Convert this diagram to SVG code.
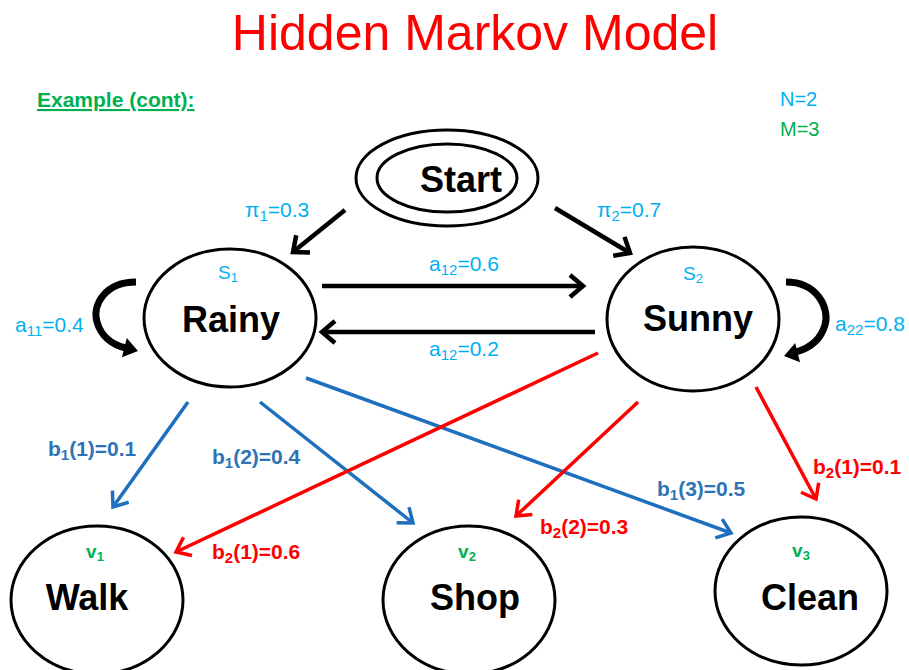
<svg xmlns="http://www.w3.org/2000/svg" width="909" height="670" viewBox="0 0 909 670">
<defs>
<style>
text{font-family:"Liberation Sans",Arial,sans-serif}
.node{fill:#fff;stroke:#000;stroke-width:3}
.name{font-size:36px;font-weight:bold;fill:#000;text-anchor:middle}
.st{font-size:19px;fill:#00B0F0;text-anchor:middle}
.ob{font-size:19px;fill:#00B050;text-anchor:middle;font-weight:bold}
.lb{font-size:21px;fill:#00B0F0}
.bb{font-size:21px;fill:#2E74B5;font-weight:bold}
.br{font-size:21px;fill:#FF0000;font-weight:bold}
.k{stroke:#000;stroke-width:4.5;fill:none}
.b{stroke:#1F6FBF;stroke-width:3.5;fill:none}
.r{stroke:#FF0000;stroke-width:3.5;fill:none}
</style>
<marker id="mk" markerUnits="userSpaceOnUse" viewBox="-16 -13 20 26" refX="0" refY="0" markerWidth="20" markerHeight="26" orient="auto">
<path d="M-13,-11 L0,0 L-13,11" fill="none" stroke="#000" stroke-width="4.5"/>
</marker>
<marker id="mb" markerUnits="userSpaceOnUse" viewBox="-16 -13 20 26" refX="0" refY="0" markerWidth="20" markerHeight="26" orient="auto">
<path d="M-13,-10 L0,0 L-13,10" fill="none" stroke="#1F6FBF" stroke-width="3.5"/>
</marker>
<marker id="mr" markerUnits="userSpaceOnUse" viewBox="-16 -13 20 26" refX="0" refY="0" markerWidth="20" markerHeight="26" orient="auto">
<path d="M-13,-10 L0,0 L-13,10" fill="none" stroke="#FF0000" stroke-width="3.5"/>
</marker>
</defs>
<rect width="909" height="670" fill="#fff"/>

<text x="475" y="50" font-size="50" fill="#FF0000" text-anchor="middle">Hidden Markov Model</text>
<text x="37" y="107" font-size="21" font-weight="bold" fill="#00B050" text-decoration="underline">Example (cont):</text>
<text x="780" y="106" font-size="20" fill="#00B0F0">N=2</text>
<text x="780" y="136" font-size="20" fill="#00B050">M=3</text>

<g id="connectors">
<line class="k" x1="345" y1="210" x2="293" y2="252" marker-end="url(#mk)"/>
<line class="k" x1="555" y1="208" x2="630" y2="253" marker-end="url(#mk)"/>
<line class="k" x1="322" y1="286" x2="583" y2="286" marker-end="url(#mk)"/>
<line class="k" x1="595" y1="332" x2="322" y2="332" marker-end="url(#mk)"/>
<path d="M136,282 C105,282 92,305 97,322 C101,336 112,345 126,348" fill="none" stroke="#000" stroke-width="7"/>
<polygon points="138,351 122,357.3 126.8,337.9" fill="#000"/>
<path d="M786,282 C817,282 830,308 825,325 C821,339 810,348 796,352" fill="none" stroke="#000" stroke-width="7"/>
<polygon points="784,356 800,362.3 795.2,342.9" fill="#000"/>
<line class="b" x1="188" y1="402" x2="113" y2="507" marker-end="url(#mb)"/>
<line class="b" x1="260" y1="402" x2="413" y2="523" marker-end="url(#mb)"/>
<line class="b" x1="306" y1="378" x2="731" y2="533" marker-end="url(#mb)"/>
<line class="r" x1="598" y1="353" x2="176" y2="552" marker-end="url(#mr)"/>
<line class="r" x1="638" y1="402" x2="516" y2="516" marker-end="url(#mr)"/>
<line class="r" x1="756" y1="387" x2="816" y2="499" marker-end="url(#mr)"/>

<text class="lb" x="245" y="217">π<tspan font-size="15" dy="4">1</tspan><tspan dy="-4">=0.3</tspan></text>
<text class="lb" x="597" y="217">π<tspan font-size="15" dy="4">2</tspan><tspan dy="-4">=0.7</tspan></text>
<text class="lb" x="429" y="271">a<tspan font-size="15" dy="4">12</tspan><tspan dy="-4">=0.6</tspan></text>
<text class="lb" x="429" y="356">a<tspan font-size="15" dy="4">12</tspan><tspan dy="-4">=0.2</tspan></text>
<text class="lb" x="15" y="332">a<tspan font-size="15" dy="4">11</tspan><tspan dy="-4">=0.4</tspan></text>
<text class="lb" x="835" y="331">a<tspan font-size="15" dy="4">22</tspan><tspan dy="-4">=0.8</tspan></text>
<text class="bb" x="48" y="456">b<tspan font-size="15" dy="4">1</tspan><tspan dy="-4">(1)=0.1</tspan></text>
<text class="bb" x="212" y="464">b<tspan font-size="15" dy="4">1</tspan><tspan dy="-4">(2)=0.4</tspan></text>
<text class="bb" x="657" y="496">b<tspan font-size="15" dy="4">1</tspan><tspan dy="-4">(3)=0.5</tspan></text>
<text class="br" x="212" y="559">b<tspan font-size="15" dy="4">2</tspan><tspan dy="-4">(1)=0.6</tspan></text>
<text class="br" x="540" y="534">b<tspan font-size="15" dy="4">2</tspan><tspan dy="-4">(2)=0.3</tspan></text>
<text class="br" x="813" y="474">b<tspan font-size="15" dy="4">2</tspan><tspan dy="-4">(1)=0.1</tspan></text>
</g>

<g id="start">
<ellipse class="node" cx="447" cy="178" rx="91" ry="48"/>
<ellipse class="node" cx="447" cy="178" rx="70" ry="34"/>
<text class="name" x="461" y="192" font-size="38">Start</text>
</g>
<g id="rainy">
<ellipse class="node" cx="230" cy="318" rx="86" ry="69"/>
<text class="st" x="228" y="279">S<tspan font-size="13" dy="3">1</tspan></text>
<text class="name" x="231" y="332">Rainy</text>
</g>
<g id="sunny">
<ellipse class="node" cx="693" cy="319" rx="86" ry="72"/>
<text class="st" x="693" y="280">S<tspan font-size="13" dy="3">2</tspan></text>
<text class="name" x="698" y="331">Sunny</text>
</g>
<g id="walk">
<ellipse class="node" cx="97" cy="600" rx="86" ry="74"/>
<text class="ob" x="95" y="558">v<tspan font-size="13" dy="3">1</tspan></text>
<text class="name" x="87" y="610" font-size="38">Walk</text>
</g>
<g id="shop">
<ellipse class="node" cx="469" cy="600" rx="86" ry="74"/>
<text class="ob" x="467" y="558">v<tspan font-size="13" dy="3">2</tspan></text>
<text class="name" x="475" y="610">Shop</text>
</g>
<g id="clean">
<ellipse class="node" cx="801" cy="591" rx="86" ry="74"/>
<text class="ob" x="801" y="557">v<tspan font-size="13" dy="3">3</tspan></text>
<text class="name" x="810" y="610">Clean</text>
</g>
</svg>
